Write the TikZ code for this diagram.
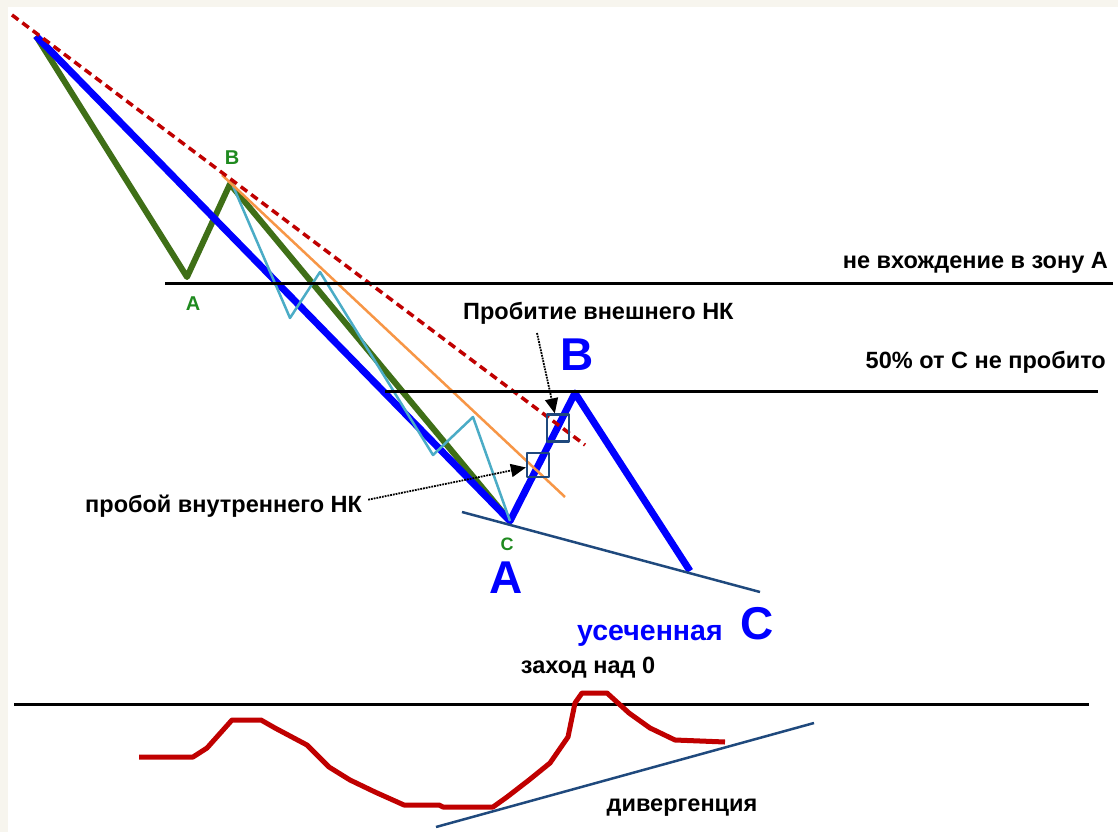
\documentclass[tikz,border=0pt]{standalone}
\usepackage{fontspec}
\setmainfont{Liberation Sans}
\usepackage{xcolor}
\usetikzlibrary{arrows.meta, positioning}
\definecolor{Wave_Blue}{HTML}{0000FF}
\definecolor{Wave_Green}{HTML}{3F6F17}
\definecolor{Label_Green}{HTML}{1F8A1F}
\definecolor{Sub_Cyan}{HTML}{4BACC6}
\definecolor{Line_Orange}{HTML}{F79646}
\definecolor{Line_Red}{HTML}{C00000}
\definecolor{Line_Navy}{HTML}{1F497D}
\definecolor{Frame_Beige}{HTML}{F7F5EE}

\tikzset{
  lbl/.style={inner sep=0pt, font=\fontsize{23.5}{27}\selectfont\bfseries},
  biglbl/.style={inner sep=0pt, text=Wave_Blue, font=\fontsize{46}{50}\selectfont\bfseries},
  smalllbl/.style={inner sep=0pt, text=Label_Green, font=\fontsize{20}{24}\selectfont\bfseries},
  level/.style={line width=3pt, black},
  boxmark/.style={draw=Line_Navy, line width=2.2pt, minimum width=22pt, minimum height=24pt, inner sep=0pt},
  dotarrow/.style={line width=1.8pt, densely dotted, -{Triangle[length=15pt, width=13pt]}}
}

\begin{document}
\begin{tikzpicture}[x=1pt, y=-1pt, line join=round]
    \useasboundingbox (0,0) rectangle (1118,832);
    \fill[Frame_Beige] (0,0) rectangle (1118,832);
    \fill[white] (8,7) rectangle (1118,832);

    % Wave points
    \coordinate (start) at (36,36);
    \coordinate (gA) at (187,277);
    \coordinate (gB) at (230,184);
    \coordinate (wA) at (510,521);
    \coordinate (wB) at (575,393);
    \coordinate (wC) at (690,571);

    % Inner waves (green and cyan)
    \draw[line width=6pt, Wave_Green] (start) -- (gA) -- (gB) -- (wA);
    \draw[line width=7pt, Wave_Blue] (start) -- (wA) -- (wB) -- (wC);
    \draw[line width=2.5pt, Sub_Cyan] (233,186) -- (290,318) -- (320,272) -- (433,455) -- (473,417) -- (wA);

    % Trend lines
    \draw[line width=2.5pt, Line_Orange] (222,175) -- (565,497);
    \draw[line width=3.5pt, Line_Red, dash pattern=on 8pt off 5pt] (12,15) -- (585,445);
    \draw[line width=2.5pt, Line_Navy] (462,512) -- (760,592);

    % Levels
    \draw[level] (165,283) -- (1113,283);
    \draw[level] (385,391) -- (1098,391);

    % Breakout boxes
    \node[boxmark] (sqInner) at (538,465) {};
    \node[boxmark, minimum height=27pt] (sqOuter) at (558,428) {};

    % Labels
    \node[lbl, anchor=base east] (zoneA) at (1108,268) {не вхождение в зону А};
    \node[lbl, anchor=base east] (half) at (1106,368) {50\% от С не пробито};
    \node[lbl, anchor=base west] (outerLbl) at (463,319) {Пробитие внешнего НК};
    \node[lbl, anchor=base west] (innerLbl) at (85,512) {пробой внутреннего НК};
    \coordinate (outerStart) at (537,333);
    \draw[dotarrow] (outerStart) -- (sqOuter);
    \draw[dotarrow] (innerLbl.east) ++(6,-6) coordinate (innerStart) -- (sqInner);

    \node[smalllbl, anchor=base] (lblB) at (232,164) {B};
    \node[smalllbl, anchor=base] (lblA) at (193,310) {A};
    \node[smalllbl, anchor=base, font=\fontsize{18}{22}\selectfont\bfseries] (lblC) at (507,550) {C};

    \node[biglbl, anchor=base] (bigB) at (577,370) {B};
    \node[biglbl, anchor=base] (bigA) at (506,593) {A};
    \node[biglbl, anchor=base] (bigC) at (757,639) {C};
    \node[lbl, anchor=base west, text=Wave_Blue, font=\fontsize{28.5}{32}\selectfont\bfseries] (cut) at (577,640) {усеченная};

    % Oscillator
    \node[lbl, anchor=base] (overZero) at (588,673) {заход над 0};
    \draw[level] (14,704) -- (1089,704);
    \draw[line width=5pt, Line_Red] plot coordinates {(139,757) (193,757) (207,748) (232,720) (261,720) (275,728) (307,745) (329,767) (350,780) (375,792) (404,805) (439,805) (443,807) (493,807) (507,797) (529,780) (550,763) (568,737) (575,703) (582,693) (607,693) (629,713) (650,728) (675,740) (725,742)};
    \draw[line width=2.5pt, Line_Navy] (436,827) -- (814,723);
    \node[lbl, anchor=base] (diverg) at (682,811) {дивергенция};
\end{tikzpicture}
\end{document}
